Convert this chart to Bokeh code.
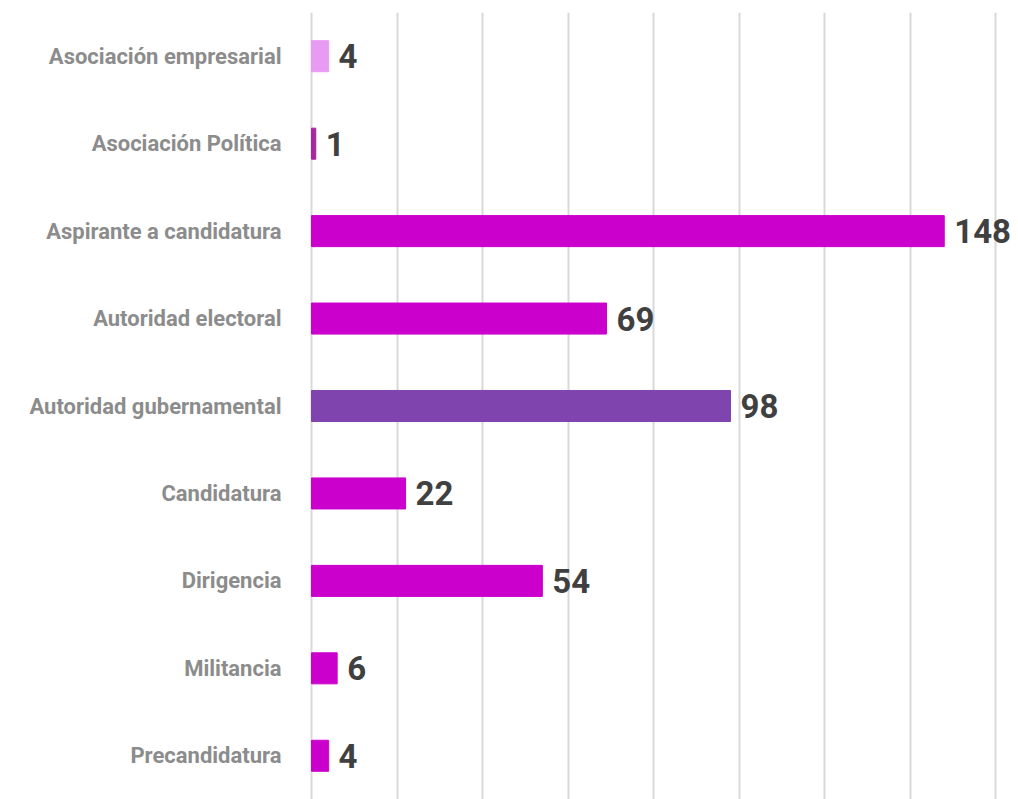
from bokeh.plotting import figure
from bokeh.models import ColumnDataSource, FactorRange, Range1d, FixedTicker, LabelSet
from bokeh.core.properties import value
from bokeh.embed import file_html
from bokeh.resources import INLINE

categories = ["Asociación empresarial", "Asociación Política", "Aspirante a candidatura",
              "Autoridad electoral", "Autoridad gubernamental", "Candidatura",
              "Dirigencia", "Militancia", "Precandidatura"]
values = [4, 1, 148, 69, 98, 22, 54, 6, 4]
bar_colors = ["#E89BF2", "#A8279C", "#CC00CC", "#CC00CC", "#7F44AE",
              "#CC00CC", "#CC00CC", "#CC00CC", "#CC00CC"]
grid_ticks = [0, 20, 40, 60, 80, 100, 120, 140, 160]

source = ColumnDataSource(data=dict(
    cat=categories, val=values, color=bar_colors,
    label=[str(v) for v in values]))

p = figure(width=1016, height=799,
           y_range=FactorRange(factors=list(reversed(categories)), range_padding=0),
           x_range=Range1d(-0.47, 164.9),
           x_axis_location=None,
           output_backend="svg", toolbar_location=None,
           min_border_left=309, min_border_right=0,
           min_border_top=12, min_border_bottom=0)

p.hbar(y="cat", right="val", left=0, height=0.355, color="color", source=source)

labels = LabelSet(x="val", y="cat", text="label", source=source,
                  x_offset=10, text_baseline="middle", text_align="left",
                  text_font=value("Roboto"), text_font_style="bold",
                  text_font_size="33px", text_color="#404040")
p.add_layout(labels)

p.outline_line_color = None
p.ygrid.grid_line_color = None
p.xgrid.ticker = FixedTicker(ticks=grid_ticks)
p.xgrid.grid_line_color = "#d9d9d9"
p.xgrid.grid_line_width = 2

yax = p.yaxis[0]
yax.axis_line_color = None
yax.major_tick_line_color = None
yax.minor_tick_line_color = None
yax.major_label_standoff = 22
yax.major_label_text_font = "Roboto"
yax.major_label_text_font_style = "bold"
yax.major_label_text_font_size = "22px"
yax.major_label_text_color = "#8c8c8c"

open("out.html", "w").write(file_html(p, INLINE))
